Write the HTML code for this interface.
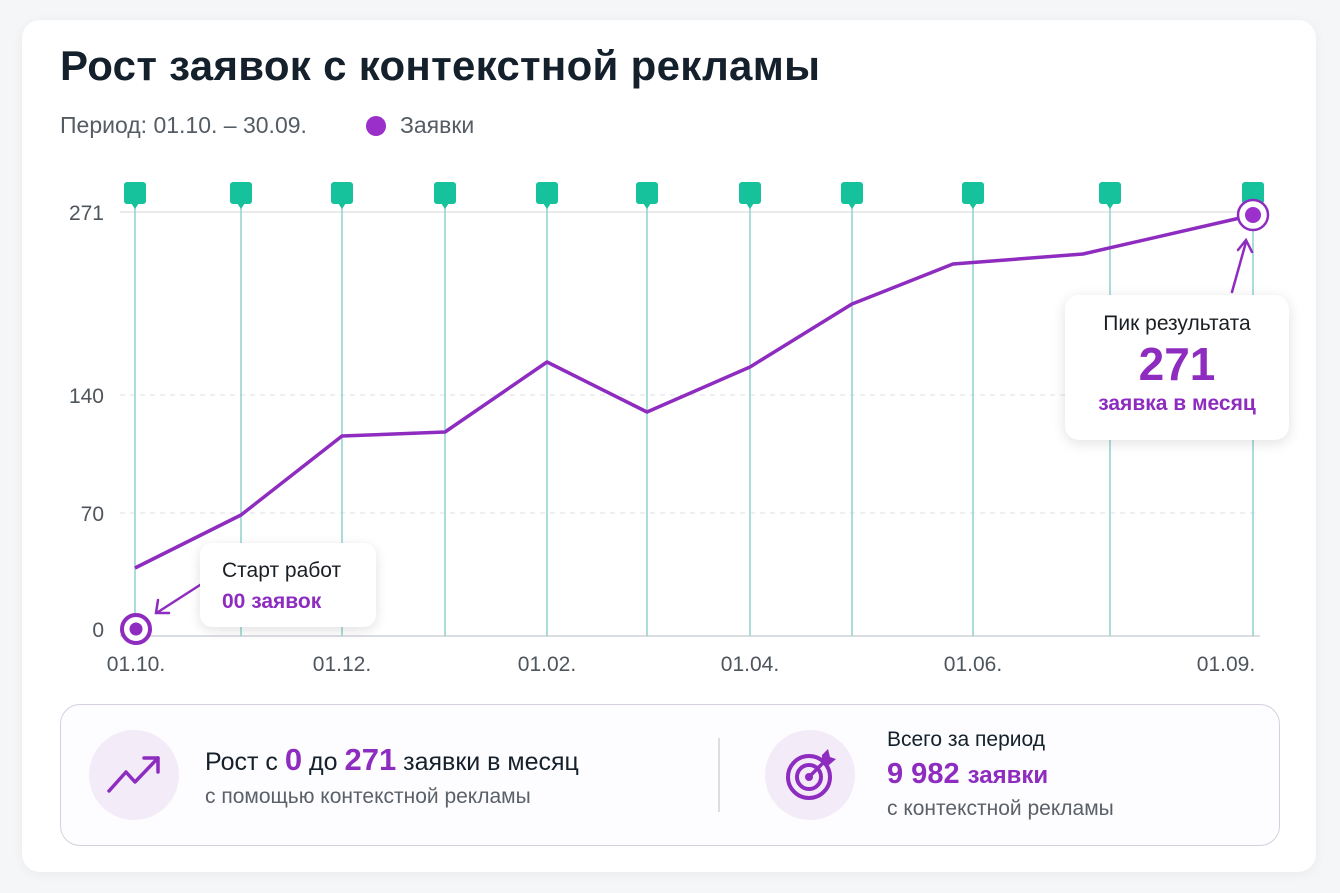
<!DOCTYPE html>
<html><head><meta charset="utf-8"><style>
body{margin:0;width:1340px;height:893px;background:#f5f6f8;font-family:"Liberation Sans",sans-serif;position:relative;overflow:hidden}
.card{position:absolute;left:22px;top:20px;width:1294px;height:852px;background:#fff;border-radius:18px;box-shadow:0 2px 12px rgba(0,0,0,.05)}
.t{position:absolute;white-space:nowrap}
</style></head><body>
<div class="card"></div>
<div class="t" style="left:60px;top:42px;font-size:42px;font-weight:bold;color:#14202b;letter-spacing:0.3px">Рост заявок с контекстной рекламы</div>
<div class="t" style="left:60px;top:112px;font-size:23px;color:#555c64">Период: 01.10. – 30.09.</div>
<div class="t" style="left:366px;top:116px;width:20px;height:20px;border-radius:50%;background:#9b2fc9"></div>
<div class="t" style="left:400px;top:112px;font-size:23px;color:#555c64">Заявки</div>
<svg style="position:absolute;left:0;top:0" width="1340" height="893">
<defs><g id="m"><rect x="-11" y="182" width="22" height="22" rx="3"/><path d="M-4 203 L0 209 L4 203Z"/></g></defs>
<g font-family="Liberation Sans" font-size="21" fill="#4e555c" text-anchor="end">
<text x="104" y="220">271</text><text x="104" y="403">140</text><text x="104" y="521">70</text><text x="104" y="637">0</text></g>
<line x1="120" y1="212" x2="1260" y2="212" stroke="#e0e3e6" stroke-width="1.5"/>
<line x1="120" y1="395" x2="1260" y2="395" stroke="#dcdfe2" stroke-dasharray="5,5"/>
<line x1="120" y1="513" x2="1260" y2="513" stroke="#dcdfe2" stroke-dasharray="5,5"/>
<line x1="120" y1="636" x2="1260" y2="636" stroke="#cfd3d7" stroke-width="1.5"/>
<g stroke="#8fd3cd" stroke-width="1.5">
<line x1="135" y1="200" x2="135" y2="636"/><line x1="241" y1="200" x2="241" y2="636"/><line x1="342" y1="200" x2="342" y2="636"/><line x1="445" y1="200" x2="445" y2="636"/><line x1="547" y1="200" x2="547" y2="636"/><line x1="647" y1="200" x2="647" y2="636"/><line x1="750" y1="200" x2="750" y2="636"/><line x1="852" y1="200" x2="852" y2="636"/><line x1="973" y1="200" x2="973" y2="636"/><line x1="1110" y1="200" x2="1110" y2="636"/><line x1="1253" y1="200" x2="1253" y2="636"/></g>
<g fill="#16c29c">
<use href="#m" x="135"/><use href="#m" x="241"/><use href="#m" x="342"/><use href="#m" x="445"/><use href="#m" x="547"/><use href="#m" x="647"/><use href="#m" x="750"/><use href="#m" x="852"/><use href="#m" x="973"/><use href="#m" x="1110"/><use href="#m" x="1253"/></g>
<polyline points="135,568 241,515 342,436 445,432 547,362 647,412 750,367 852,304 953,264 1083,254 1253,215" fill="none" stroke="#8e2cc0" stroke-width="3.5" stroke-linejoin="round"/>
<circle cx="136" cy="629" r="14" fill="#fff" stroke="#8e2cc0" stroke-width="4"/><circle cx="136" cy="629" r="6.5" fill="#8e2cc0"/>
<circle cx="1253" cy="215" r="15" fill="#fff" stroke="#8e2cc0" stroke-width="2.5"/><circle cx="1253" cy="215" r="8" fill="#9b30cc"/>
<g font-family="Liberation Sans" font-size="21" fill="#4e555c" text-anchor="middle">
<text x="136" y="671">01.10.</text><text x="342" y="671">01.12.</text><text x="547" y="671">01.02.</text><text x="750" y="671">01.04.</text><text x="973" y="671">01.06.</text><text x="1226" y="671">01.09.</text></g>
<g stroke="#8e2cc0" stroke-width="2.5" fill="none" stroke-linecap="round">
<line x1="200" y1="585" x2="158" y2="612"/><path d="M158 600 L156 613 L169 613"/>
<line x1="1232" y1="292" x2="1246" y2="242"/><path d="M1238 250 L1246 240 L1252 252"/></g>
</svg>
<div class="t" style="left:200px;top:543px;width:176px;height:84px;background:#fff;border-radius:12px;box-shadow:0 3px 12px rgba(0,0,0,.12)"></div>
<div class="t" style="left:222px;top:559px;font-size:21px;color:#1a1f24">Старт работ</div>
<div class="t" style="left:222px;top:590px;font-size:21px;color:#8e2cc0;font-weight:bold">00 заявок</div>
<div class="t" style="left:1065px;top:295px;width:224px;height:145px;background:#fff;border-radius:14px;box-shadow:0 3px 14px rgba(0,0,0,.12);text-align:center">
<div style="margin-top:17px;font-size:21px;color:#1a1f24">Пик результата</div>
<div style="font-size:46px;font-weight:bold;color:#8e2cc0;line-height:56px">271</div>
<div style="font-size:21px;font-weight:bold;color:#8e2cc0;margin-top:0">заявка в месяц</div></div>
<div class="t" style="left:60px;top:704px;width:1218px;height:140px;border:1.5px solid #d7cfe0;border-radius:20px;background:#fdfcfe"></div>
<div class="t" style="left:89px;top:730px;width:90px;height:90px;border-radius:50%;background:#f3ecf8"></div>
<svg style="position:absolute;left:106px;top:752px" width="58" height="44"><g fill="none" stroke="#8e2cc0" stroke-width="3.5" stroke-linecap="round" stroke-linejoin="round"><polyline points="3,39 20,20 29,30 52,6"/><polyline points="38,6 52,6 52,20"/></g></svg>
<div class="t" style="left:205px;top:742px;font-size:25px;color:#14202b">Рост с <b style="color:#8e2cc0;font-size:31px">0</b> до <b style="color:#8e2cc0;font-size:31px">271</b> заявки в месяц</div>
<div class="t" style="left:205px;top:785px;font-size:21px;color:#5b6168">с помощью контекстной рекламы</div>
<div class="t" style="left:718px;top:738px;width:1.5px;height:74px;background:#ddd"></div>
<div class="t" style="left:765px;top:730px;width:90px;height:90px;border-radius:50%;background:#f3ecf8"></div>
<svg style="position:absolute;left:780px;top:745px" width="60" height="60"><g fill="none" stroke="#8e2cc0" stroke-width="4"><circle cx="29" cy="32" r="21"/><circle cx="29" cy="32" r="12"/></g><circle cx="29" cy="32" r="4" fill="#8e2cc0"/><line x1="29" y1="32" x2="46" y2="15" stroke="#8e2cc0" stroke-width="3.5"/><path d="M42 10 L48 4 L50 12 L56 14 L49 20 L42 18Z" fill="#8e2cc0"/></svg>
<div class="t" style="left:887px;top:728px;font-size:21px;color:#14202b">Всего за период</div>
<div class="t" style="left:887px;top:758px;font-size:29px;font-weight:bold;color:#8e2cc0">9 982 <span style="font-size:24px">заявки</span></div>
<div class="t" style="left:887px;top:797px;font-size:21px;color:#5b6168">с контекстной рекламы</div>
</body></html>
